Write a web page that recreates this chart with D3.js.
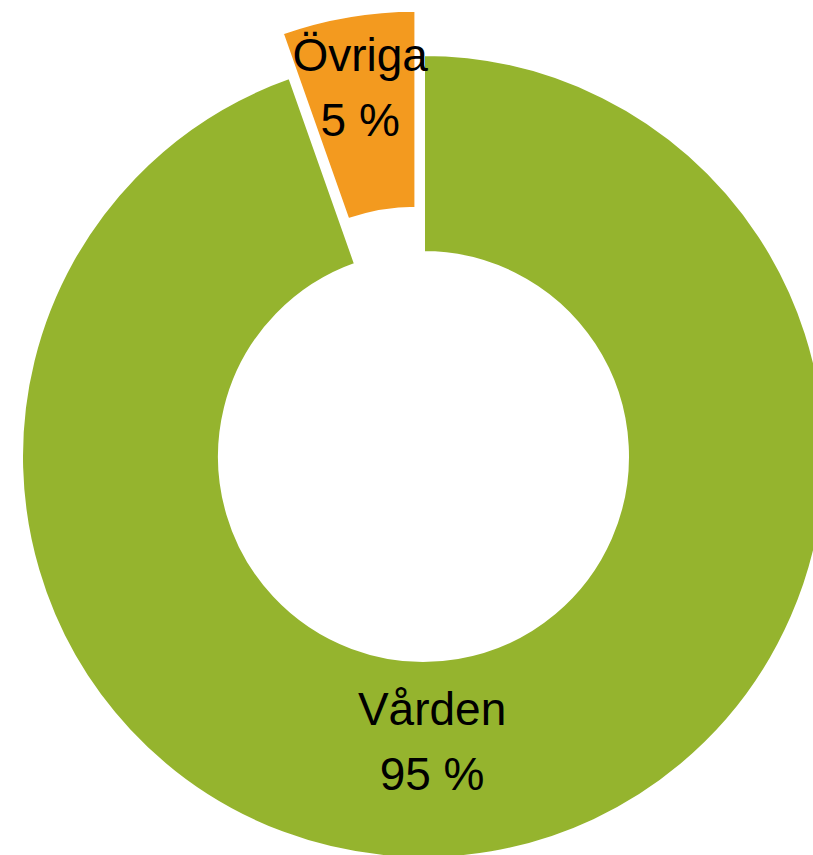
<!DOCTYPE html>
<html>
<head>
<meta charset="utf-8">
<script src="https://cdn.jsdelivr.net/npm/d3@7"></script>
<style>
  body { margin: 0; background: #fff; }
  svg { display: block; }
</style>
</head>
<body>
<div id="chart"></div>
<script>
// data
var categories = ["Vården", "Övriga"];
var shares = [94.6, 5.4];
var shareLabels = ["95 %", "5 %"];
var colors = ["#95B42E", "#F39A1F"];

var width = 813, height = 855;
var cx = 423.5, cy = 456.5;
var outerR = 402, innerR = 204;
var explode = [0, 45];          // pull-out distance per slice
var labelR = [285, 330];        // Excel-ish label placement
var labelTurn = [8 * Math.PI / 180, 0];

var svg = d3.select("#chart").append("svg")
    .attr("width", width)
    .attr("height", height);

var pie = d3.pie().sort(null).value(function (d) { return d; });
var arc = d3.arc().innerRadius(innerR).outerRadius(outerR);

var arcs = pie(shares);

var g = svg.append("g").attr("transform", "translate(" + cx + "," + cy + ")");

var slice = g.selectAll(".slice")
    .data(arcs)
    .enter().append("g")
    .attr("class", "slice")
    .attr("transform", function (d, i) {
        var a = (d.startAngle + d.endAngle) / 2;
        return "translate(" + (Math.sin(a) * explode[i]) + "," + (-Math.cos(a) * explode[i]) + ")";
    });

slice.append("path")
    .attr("d", arc)
    .attr("fill", function (d, i) { return colors[i]; })
    .attr("stroke", "#fff")
    .attr("stroke-width", 3);

var fs = 46, lh = 65;
var label = slice.append("text")
    .attr("text-anchor", "middle")
    .attr("font-family", "'Liberation Sans', Arial, sans-serif")
    .attr("font-size", fs)
    .attr("fill", "#000")
    .attr("transform", function (d, i) {
        var a = (d.startAngle + d.endAngle) / 2 + labelTurn[i];
        var x = Math.sin(a) * labelR[i], y = -Math.cos(a) * labelR[i];
        return "translate(" + x + "," + y + ")";
    });

label.append("tspan")
    .attr("x", 0)
    .attr("y", -lh / 2 + fs * 0.716 / 2)
    .text(function (d, i) { return categories[i]; });
label.append("tspan")
    .attr("x", 0)
    .attr("y", lh / 2 + fs * 0.716 / 2)
    .text(function (d, i) { return shareLabels[i]; });
</script>
</body>
</html>
